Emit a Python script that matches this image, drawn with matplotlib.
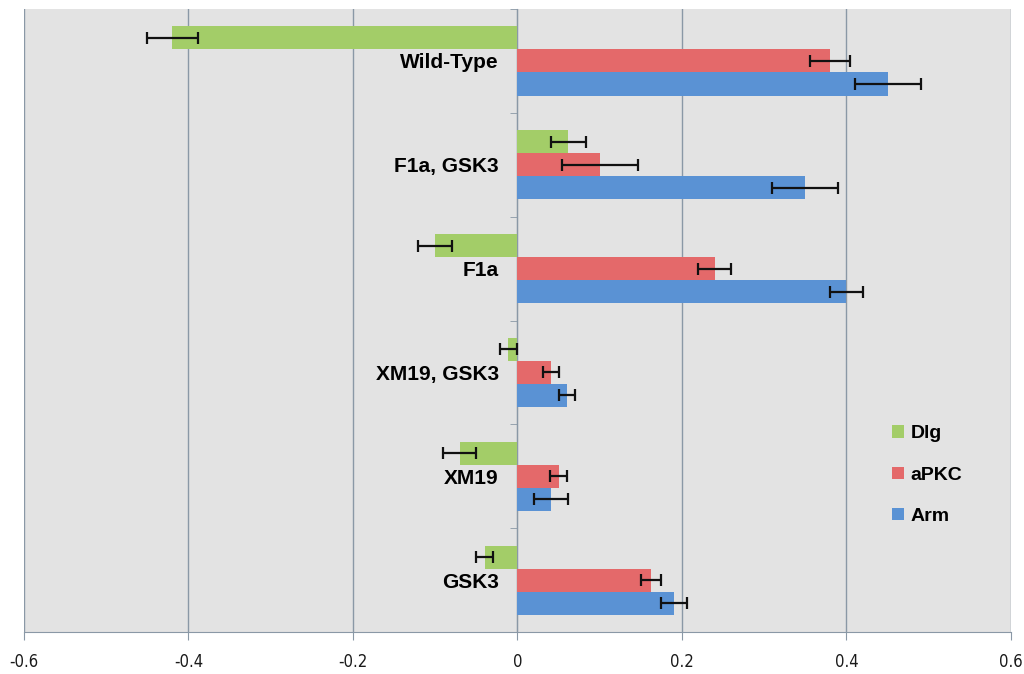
import numpy as np
import matplotlib.pyplot as plt
from matplotlib.patches import Patch

# Datos (de arriba hacia abajo)
categorias = ['Wild-Type', 'F1a, GSK3', 'F1a', 'XM19, GSK3', 'XM19', 'GSK3']
series = ['Dlg', 'aPKC', 'Arm']

dlg = [-0.42, 0.062, -0.10, -0.011, -0.07, -0.04]
dlg_err = [0.031, 0.021, 0.021, 0.010, 0.020, 0.010]

apkc = [0.38, 0.10, 0.24, 0.041, 0.05, 0.162]
apkc_err = [0.024, 0.046, 0.020, 0.010, 0.010, 0.012]

arm = [0.45, 0.35, 0.40, 0.06, 0.041, 0.19]
arm_err = [0.040, 0.040, 0.020, 0.010, 0.021, 0.016]

etiquetas_x = ['-0.6', '-0.4', '-0.2', '0', '0.2', '0.4', '0.6']

colores = ['#a3cd68', '#e4696a', '#5a92d4']

fig = plt.figure(figsize=(10.24, 6.74), dpi=100)
fig.patch.set_facecolor('white')
ax = fig.add_axes([0.0234, 0.0623, 0.9639, 0.9243])
ax.set_facecolor('#e3e3e3')

y = np.arange(len(categorias))
h = 0.222
valores = [dlg, apkc, arm]
errores = [dlg_err, apkc_err, arm_err]
for k, (v, e, c) in enumerate(zip(valores, errores, colores)):
    ax.barh(y + (k - 1) * h, v, height=h, color=c, edgecolor='none', zorder=2,
            label=series[k])
    ax.errorbar(v, y + (k - 1) * h, xerr=e, fmt='none', ecolor='#111111',
                elinewidth=1.6, capsize=4.5, capthick=1.6, zorder=3)

ax.set_xlim(-0.6, 0.6)
ax.set_ylim(len(categorias) - 0.5, -0.5)
ax.set_xticks(np.linspace(-0.6, 0.6, len(etiquetas_x)))
ax.set_xticklabels(etiquetas_x, family='DejaVu Sans', stretch='condensed',
                   fontsize=12, color='#1a1a1a')
ax.grid(axis='x', color='#8a98a6', linewidth=1.0, zorder=0)
ax.tick_params(axis='x', length=6, color='#8a98a6', pad=9)

# eje vertical en x = 0 con las etiquetas de categoría al lado
ax.spines['left'].set_position(('data', 0))
ax.spines['left'].set_color('#8a98a6')
ax.spines['left'].set_zorder(1)
ax.spines['top'].set_visible(False)
ax.spines['right'].set_visible(False)
ax.spines['bottom'].set_color('#8a98a6')
ax.set_yticks(y)
ax.set_yticklabels(categorias, fontsize=15, fontweight='bold',
                   family=['Liberation Sans', 'DejaVu Sans'])
ax.set_yticks(np.arange(-0.5, len(categorias), 1.0), minor=True)
ax.tick_params(axis='y', which='major', length=0, pad=13.5)
ax.tick_params(axis='y', which='minor', length=5, color='#8a98a6')

handles = [Patch(facecolor=c, edgecolor='none') for c in colores]
leg = ax.legend(handles, series, loc='center left', bbox_to_anchor=(0.862, 0.252),
                frameon=False, handlelength=0.6, handleheight=0.6,
                handletextpad=0.35, labelspacing=1.25,
                prop={'family': ['Liberation Sans', 'DejaVu Sans'],
                      'weight': 'bold', 'size': 14})

plt.savefig('out.png', dpi=100, facecolor='white')
